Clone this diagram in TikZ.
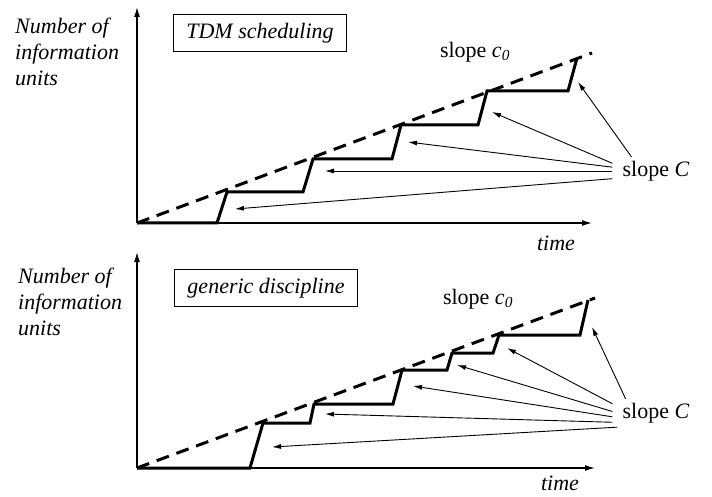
\documentclass[tikz,border=0pt]{standalone}
\usepackage{fontspec}
\setmainfont{Liberation Serif}
\usetikzlibrary{arrows.meta}
\newcommand{\figfont}{\fontsize{22}{26}\selectfont}

\begin{document}
\begin{tikzpicture}[x=1pt,y=1pt,font=\figfont,
    axis/.style={line width=1.3pt,-{Latex[length=10pt,width=6pt]}},
    stair/.style={line width=3pt},
    rate/.style={line width=3pt,dash pattern=on 13pt off 8pt},
    pointer/.style={line width=0.9pt,-{Latex[length=9pt,width=5pt]}},
    title/.style={draw,line width=1.6pt,inner xsep=13pt,minimum height=37pt,font=\figfont\itshape},
    ylab/.style={anchor=west,align=left,inner sep=0pt,font=\figfont\itshape},
    src/.style={inner xsep=10pt,inner ysep=4pt}]
      \useasboundingbox (0,0) rectangle (712,496);
      \coordinate (oA) at (137,273);
      \draw[axis] (oA) -- (137,489);
      \draw[axis] (oA) -- (592,273);
      \draw[rate] (oA) -- (592,443);
      \draw[stair] (oA) -- (217,273) -- (227,304) -- (303,304) -- (313,337) -- (392,337) -- (401,371) -- (478,371) -- (487,405) -- (568,405) -- (577,438);
      \node[ylab] (yA) at (15,444) {Number of\\information\\units};
      \node[title] (boxA) at (260,463) {TDM scheduling};
      \node (cA) at (475,444) {slope \textit{c}\textsubscript{\textit{0}}};
      \node (timeA) at (556,253) {\textit{time}};
      \node[src] (sA) at (656,325) {slope \textit{C}};
      \coordinate (tA1) at (578,414);
      \coordinate (tA2) at (492,384);
      \coordinate (tA3) at (408,354);
      \coordinate (tA4) at (325,325);
      \coordinate (tA5) at (235,287);
      \draw[pointer] (sA.150) -- (tA1);
      \draw[pointer] (sA.170) -- (tA2);
      \draw[pointer] (sA.175) -- (tA3);
      \draw[pointer] (sA.west) -- (tA4);
      \draw[pointer] (sA.190) -- (tA5);

      \coordinate (oB) at (137,28);
      \draw[axis] (oB) -- (137,244);
      \draw[axis] (oB) -- (595,28);
      \draw[rate] (oB) -- (595,198);
      \draw[stair] (oB) -- (250,28) -- (263,73) -- (310,73) -- (314,92) -- (393,92) -- (402,126) -- (447,126) -- (452,143) -- (493,143) -- (499,161) -- (580,161) -- (588,196);
      \node[ylab] (yB) at (18,194) {Number of\\information\\units};
      \node[title] (boxB) at (266,208) {generic discipline};
      \node (cB) at (478,197) {slope \textit{c}\textsubscript{\textit{0}}};
      \node (timeB) at (560,13) {\textit{time}};
      \node[src] (sB) at (656,83) {slope \textit{C}};
      \coordinate (tB1) at (592,169);
      \coordinate (tB2) at (507,148);
      \coordinate (tB3) at (457,131);
      \coordinate (tB4) at (413,110);
      \coordinate (tB5) at (325,82);
      \coordinate (tB6) at (272,49);
      \draw[pointer] (sB.155) -- (tB1);
      \draw[pointer] (sB.168) -- (tB2);
      \draw[pointer] (sB.178) -- (tB3);
      \draw[pointer] (sB.185) -- (tB4);
      \draw[pointer] (sB.192) -- (tB5);
      \draw[pointer] (sB.200) -- (tB6);
%      \draw[help lines] (0,0) grid[step=50] (712,496);
    \end{tikzpicture}
\end{document}
